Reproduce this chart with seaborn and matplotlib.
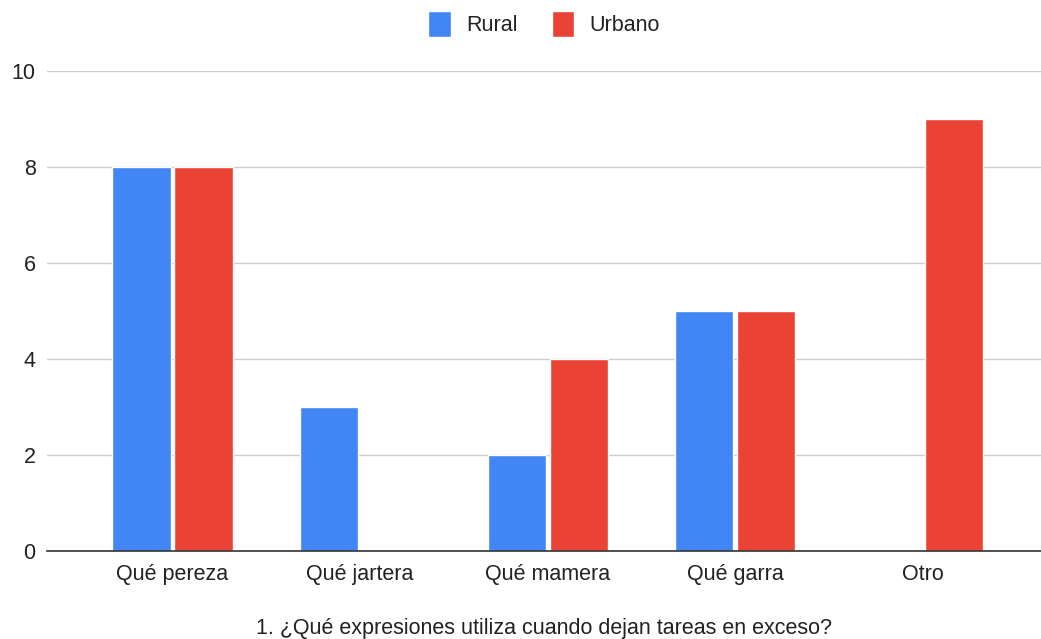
import matplotlib
matplotlib.use("Agg")
import matplotlib.pyplot as plt
import seaborn as sns
import pandas as pd

categories = ["Qué pereza", "Qué jartera", "Qué mamera", "Qué garra", "Otro"]
rural = [8, 3, 2, 5, 0]
urbano = [8, 0, 4, 5, 9]
series_names = ["Rural", "Urbano"]
colors = ["#4285F4", "#EA4335"]
yticks = [0, 2, 4, 6, 8, 10]
xlabel = "1. ¿Qué expresiones utiliza cuando dejan tareas en exceso?"

df = pd.DataFrame({
    "cat": categories * 2,
    "val": rural + urbano,
    "serie": [series_names[0]] * len(categories) + [series_names[1]] * len(categories),
})

sns.set_theme(style="white")
plt.rcParams["font.family"] = ["Liberation Sans", "DejaVu Sans"]

fig = plt.figure(figsize=(10.41, 6.39), dpi=100)
ax = fig.add_axes([0.045, 0.1377, 0.955, 0.7512])

sns.barplot(data=df, x="cat", y="val", hue="serie", palette=colors,
            width=0.66, gap=0.06, ax=ax, saturation=1, legend=True)

ax.set_ylim(0, 10)
ax.set_yticks(yticks)
ax.set_xlim(-0.67, 4.63)
ax.yaxis.grid(True, color="#cccccc", linewidth=1)
ax.set_axisbelow(True)
for s in ["top", "right", "left"]:
    ax.spines[s].set_visible(False)
ax.spines["bottom"].set_color("#333333")
ax.spines["bottom"].set_linewidth(1.2)
ax.tick_params(axis="both", length=0, labelsize=15.5, colors="#222222")
ax.tick_params(axis="x", pad=9)
ax.tick_params(axis="y", pad=8)
ax.set_ylabel("")
ax.set_xlabel(xlabel, fontsize=15.5, color="#222222", labelpad=24)

handles, labels = ax.get_legend_handles_labels()
ax.legend(handles, labels, loc="upper center", bbox_to_anchor=(0.5, 1.165), ncol=2,
          frameon=False, fontsize=15.5, handlelength=1.05, handleheight=1.45,
          columnspacing=1.6, handletextpad=0.7, labelcolor="#222222")

fig.savefig("out.png", dpi=100)
